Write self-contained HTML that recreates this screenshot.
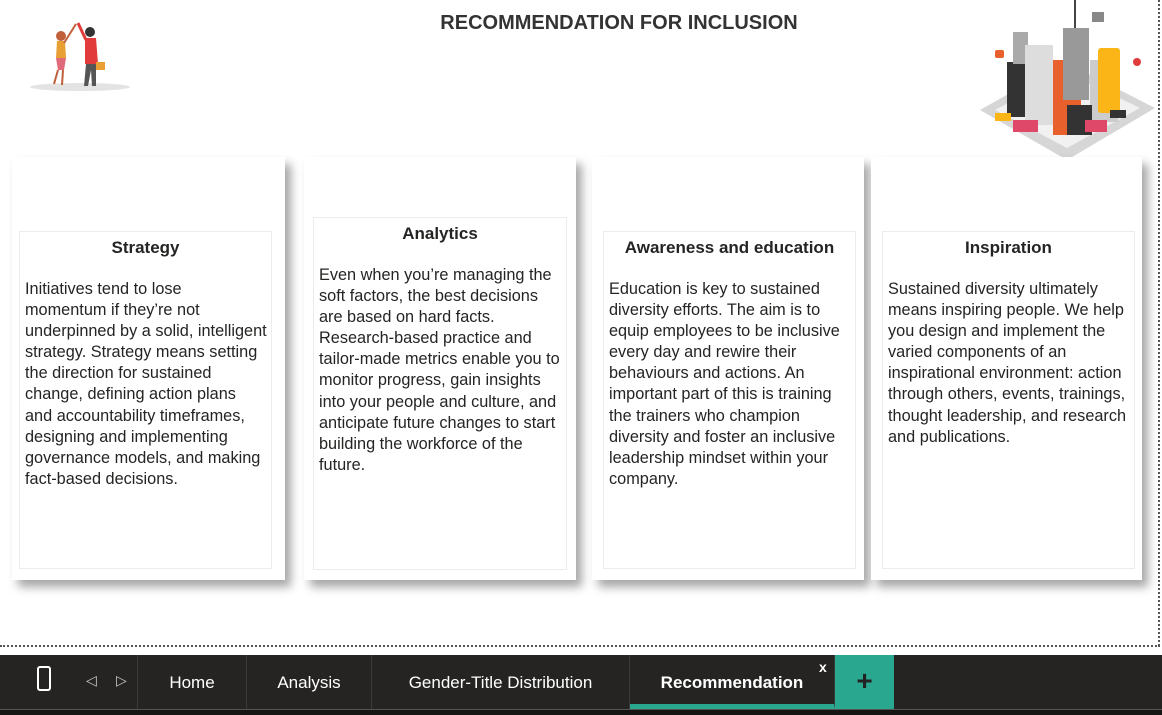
<!DOCTYPE html>
<html><head><meta charset="utf-8"><style>
*{margin:0;padding:0;box-sizing:border-box}
body{width:1162px;height:715px;background:#fff;position:relative;overflow:hidden;font-family:"Liberation Sans",sans-serif;color:#252423}
.title{position:absolute;left:0;width:1238px;top:12px;text-align:center;font-weight:bold;font-size:20px;color:#333}
.card{position:absolute;background:#fff;box-shadow:6px 7px 9px rgba(0,0,0,0.35)}
.inner{position:absolute;border:1px solid #ececec;padding:0 5px}
.inner h3{text-align:center;font-size:17px;font-weight:bold;margin-top:6px;height:41px;line-height:20px}
.inner p{font-size:16.3px;line-height:21.1px;white-space:nowrap;letter-spacing:0}
.dotsh{position:absolute;left:0;top:645px;width:1160px;border-top:2px dotted #555}
.dotsv{position:absolute;left:1158px;top:0;height:646px;border-left:2px dotted #555}
.bar{position:absolute;left:0;top:655px;width:1162px;height:54px;background:#252423}
.bot{position:absolute;left:0;top:709px;width:1162px;height:6px;background:#161514;border-top:1px solid #555}
.tab{position:absolute;top:0;height:54px;line-height:56px;color:#fff;font-size:17px;text-align:center;border-right:1px solid #3b3a39}
</style></head><body>
<div class="title">RECOMMENDATION FOR INCLUSION</div>

<svg style="position:absolute;left:28px;top:18px" width="105" height="74">
<ellipse cx="52" cy="69" rx="50" ry="4" fill="#e3e3e3"/>
<circle cx="33" cy="18" r="5" fill="#c0603a"/><path d="M29 23 L37 23 L38 40 L28 40Z" fill="#e8a035"/><path d="M28 40 L38 40 L36 52 L30 52Z" fill="#e06a7a"/><path d="M30 52 L26 66 M35 52 L34 67" stroke="#c0603a" stroke-width="2"/><path d="M36 25 L48 6" stroke="#c0603a" stroke-width="2"/>
<circle cx="62" cy="14" r="5" fill="#333"/><path d="M57 20 L68 20 L70 46 L57 46Z" fill="#e23b3b"/><path d="M58 46 L68 46 L68 68 L64 68 L63 52 L60 68 L56 68Z" fill="#555"/><path d="M58 22 L50 5" stroke="#e23b3b" stroke-width="3"/><rect x="68" y="44" width="9" height="8" fill="#e8a035"/>
</svg>

<svg style="position:absolute;left:975px;top:0" width="180" height="162">
<path d="M5 110 L90 62 L180 108 L92 160Z" fill="#d6d6d6"/><path d="M20 110 L90 72 L165 108 L92 148Z" fill="#f1f1f1"/>
<rect x="32" y="62" width="25" height="55" fill="#333"/><rect x="38" y="32" width="15" height="32" fill="#aaa"/>
<rect x="50" y="45" width="28" height="80" fill="#ddd"/><rect x="78" y="60" width="28" height="75" fill="#e8612c"/>
<rect x="88" y="28" width="26" height="72" fill="#999"/><line x1="100" y1="0" x2="100" y2="28" stroke="#444" stroke-width="2"/>
<rect x="115" y="60" width="28" height="62" fill="#ccc"/><rect x="123" y="48" width="22" height="65" rx="3" fill="#fbb516"/>
<rect x="92" y="105" width="25" height="30" fill="#333"/><rect x="38" y="120" width="25" height="12" fill="#e0486a"/>
<rect x="20" y="113" width="16" height="8" fill="#fbb516"/><rect x="110" y="120" width="22" height="12" fill="#e0486a"/><rect x="135" y="110" width="16" height="8" fill="#333"/>
<rect x="20" y="50" width="9" height="8" rx="2" fill="#e8612c"/><rect x="117" y="12" width="12" height="10" fill="#888"/><circle cx="162" cy="62" r="4" fill="#e23b3b"/>
</svg>

<div class="card" style="left:12px;top:157px;width:273px;height:423px"></div>
<div class="card" style="left:304px;top:157px;width:272px;height:423px"></div>
<div class="card" style="left:592px;top:157px;width:272px;height:423px"></div>
<div class="card" style="left:871px;top:157px;width:271px;height:423px"></div>

<div class="inner" style="left:19px;top:231px;width:253px;height:338px">
<h3>Strategy</h3>
<p>Initiatives tend to lose<br>momentum if they’re not<br>underpinned by a solid, intelligent<br>strategy. Strategy means setting<br>the direction for sustained<br>change, defining action plans<br>and accountability timeframes,<br>designing and implementing<br>governance models, and making<br>fact-based decisions.</p></div>

<div class="inner" style="left:313px;top:217px;width:254px;height:353px">
<h3>Analytics</h3>
<p>Even when you’re managing the<br>soft factors, the best decisions<br>are based on hard facts.<br>Research-based practice and<br>tailor-made metrics enable you to<br>monitor progress, gain insights<br>into your people and culture, and<br>anticipate future changes to start<br>building the workforce of the<br>future.</p></div>

<div class="inner" style="left:603px;top:231px;width:253px;height:338px">
<h3>Awareness and education</h3>
<p>Education is key to sustained<br>diversity efforts. The aim is to<br>equip employees to be inclusive<br>every day and rewire their<br>behaviours and actions. An<br>important part of this is training<br>the trainers who champion<br>diversity and foster an inclusive<br>leadership mindset within your<br>company.</p></div>

<div class="inner" style="left:882px;top:231px;width:253px;height:338px">
<h3>Inspiration</h3>
<p>Sustained diversity ultimately<br>means inspiring people. We help<br>you design and implement the<br>varied components of an<br>inspirational environment: action<br>through others, events, trainings,<br>thought leadership, and research<br>and publications.</p></div>

<div class="dotsh"></div>
<div class="dotsv"></div>

<div class="bar">
<div style="position:absolute;left:37px;top:11px;width:14px;height:25px;border:2px solid #fff;border-radius:3px"></div>
<div style="position:absolute;left:86px;top:17px;color:#ccc;font-size:14px">&#9665;</div>
<div style="position:absolute;left:116px;top:17px;color:#ccc;font-size:14px">&#9655;</div>
<div style="position:absolute;left:137px;top:0;height:54px;border-left:1px solid #3b3a39"></div>
<div class="tab" style="left:138px;width:109px">Home</div>
<div class="tab" style="left:247px;width:125px">Analysis</div>
<div class="tab" style="left:372px;width:258px">Gender-Title Distribution</div>
<div class="tab" style="left:630px;width:205px;font-weight:bold;border-bottom:5px solid #2aa88f;line-height:56px">Recommendation</div>
<div style="position:absolute;left:819px;top:4px;color:#fff;font-size:14px;font-weight:bold">x</div>
<div style="position:absolute;left:835px;top:0;width:59px;height:54px;background:#2aa88f;color:#222;font-size:28px;font-weight:bold;text-align:center;line-height:52px">+</div>
</div>
<div class="bot"></div>
</body></html>
